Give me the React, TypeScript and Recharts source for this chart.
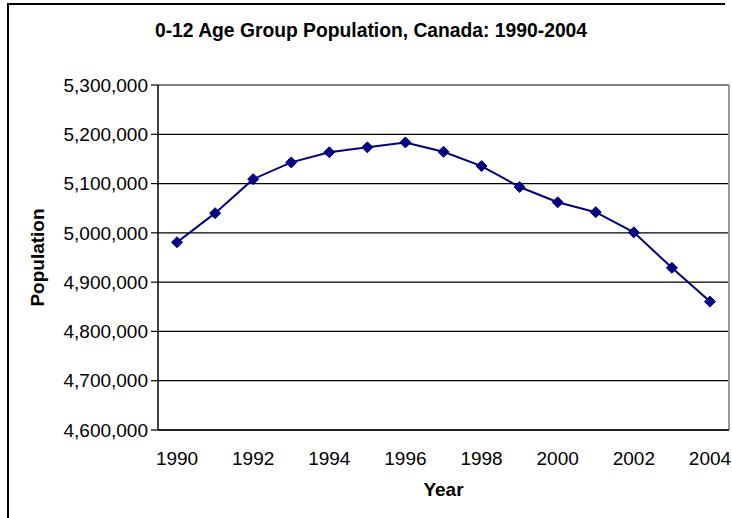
import React from "react";
import { LineChart, Line, XAxis, YAxis, CartesianGrid, ReferenceLine } from "recharts";

const years = [1990, 1991, 1992, 1993, 1994, 1995, 1996, 1997, 1998, 1999, 2000, 2001, 2002, 2003, 2004];
const population = [4981000, 5040000, 5109000, 5143000, 5163500, 5173500, 5183500, 5164500, 5135500, 5093000, 5062000, 5042000, 5001000, 4929000, 4860500];
const yearLabels = [1990, 1992, 1994, 1996, 1998, 2000, 2002, 2004];
const yearBoundaries = [1989.5, 1990.5, 1991.5, 1992.5, 1993.5, 1994.5, 1995.5, 1996.5, 1997.5, 1998.5, 1999.5, 2000.5, 2001.5, 2002.5, 2003.5, 2004.5];
const popTicks = [4600000, 4700000, 4800000, 4900000, 5000000, 5100000, 5200000, 5300000];

const data = years.map((y, i) => ({ year: y, pop: population[i] }));

const FONT = "'Liberation Sans', Arial, sans-serif";

const Diamond = (props: any) => {
  const { cx, cy } = props;
  if (cx == null || cy == null) return null;
  const r = 5.5;
  return (
    <polygon
      points={`${cx},${cy - r} ${cx + r},${cy} ${cx},${cy + r} ${cx - r},${cy}`}
      fill="#000080"
      stroke="#000080"
      strokeWidth={1}
    />
  );
};

export default function App() {
  return (
    <div style={{ position: "absolute", left: 0, top: 0, width: 732, height: 518, background: "#fff", overflow: "hidden", fontFamily: FONT }}>
      <div style={{ position: "absolute", left: 7, top: 3, width: 716, height: 530, borderTop: "2px solid #000", borderLeft: "2px solid #000" }} />
      <div style={{ position: "absolute", left: 0, width: 742, top: 20, textAlign: "center", fontWeight: "bold", fontSize: 19.3, color: "#000" }}>
        0-12 Age Group Population, Canada: 1990-2004
      </div>
      <div style={{ position: "absolute", left: 0, top: 0 }}>
        <LineChart width={732} height={518} data={data} margin={{ top: 85, right: 3, bottom: 48, left: 0 }}>
          <CartesianGrid vertical={false} stroke="#000" strokeWidth={1.2} yAxisId="pop" xAxisId="main" />
          <XAxis
            xAxisId="main"
            dataKey="year"
            type="number"
            domain={[1989.5, 2004.5]}
            ticks={yearLabels}
            interval={0}
            tickLine={false}
            axisLine={{ stroke: "#000", strokeWidth: 1.5 }}
            tick={{ fill: "#000", fontSize: 19, fontFamily: FONT }}
            tickMargin={16}
            height={40}
            allowDataOverflow
          />
          <XAxis
            xAxisId="marks"
            dataKey="year"
            type="number"
            domain={[1989.5, 2004.5]}
            ticks={yearBoundaries}
            interval={0}
            tick={false}
            tickSize={6}
            tickLine={{ stroke: "#000", strokeWidth: 1.2 }}
            axisLine={false}
            height={0}
            allowDataOverflow
          />
          <YAxis
            yAxisId="pop"
            domain={[4600000, 5300000]}
            ticks={popTicks}
            interval={0}
            tickSize={7}
            tickMargin={3}
            width={158}
            tickLine={{ stroke: "#000", strokeWidth: 1.2 }}
            axisLine={{ stroke: "#000", strokeWidth: 1.5 }}
            tick={{ fill: "#000", fontSize: 19, fontFamily: FONT }}
            tickFormatter={(v: number) => v.toLocaleString("en-US")}
            label={{ value: "Population", angle: -90, position: "insideLeft", offset: 37, style: { fontWeight: "bold", fontSize: 19, fill: "#000", fontFamily: FONT, textAnchor: "middle" } }}
          />
          <ReferenceLine xAxisId="main" yAxisId="pop" x={2004.5} stroke="#999" strokeWidth={2} />
          <Line
            xAxisId="main"
            yAxisId="pop"
            type="linear"
            dataKey="pop"
            stroke="#000080"
            strokeWidth={2}
            dot={<Diamond />}
            activeDot={false}
            isAnimationActive={false}
          />
        </LineChart>
      </div>
      <div style={{ position: "absolute", left: 158, width: 571, top: 479, textAlign: "center", fontWeight: "bold", fontSize: 19, color: "#000" }}>
        Year
      </div>
    </div>
  );
}
